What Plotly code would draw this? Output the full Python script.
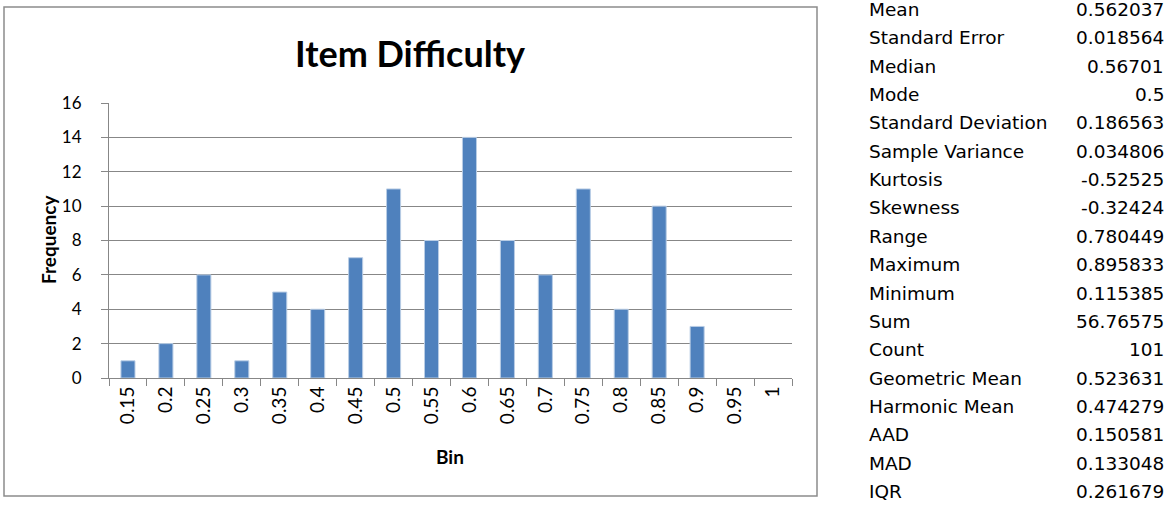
import plotly.graph_objects as go

# Histogram of item difficulty (bin upper bounds and their frequencies)
bins = ["0.15", "0.2", "0.25", "0.3", "0.35", "0.4", "0.45", "0.5", "0.55",
        "0.6", "0.65", "0.7", "0.75", "0.8", "0.85", "0.9", "0.95", "1"]
frequency = [1, 2, 6, 1, 5, 4, 7, 11, 8, 14, 8, 6, 11, 4, 10, 3, 0, 0]

# Descriptive statistics shown beside the chart
stat_names = ["Mean", "Standard Error", "Median", "Mode", "Standard Deviation",
              "Sample Variance", "Kurtosis", "Skewness", "Range", "Maximum",
              "Minimum", "Sum", "Count", "Geometric Mean", "Harmonic Mean",
              "AAD", "MAD", "IQR"]
stat_values = ["0.562037", "0.018564", "0.56701", "0.5", "0.186563",
               "0.034806", "-0.52525", "-0.32424", "0.780449", "0.895833",
               "0.115385", "56.76575", "101", "0.523631", "0.474279",
               "0.150581", "0.133048", "0.261679"]

W, H = 1172, 510
L, R, T, B = 109, 792, 103, 378   # plot area in pixels
PW, PH = R - L, B - T


def px(x):
    return (x - L) / PW


def py(y):
    return (B - y) / PH


BODY = "Lato"
GRID = "#878787"

# empty bins get no outline so nothing shows on the baseline
outline_w = [1 if f > 0 else 0 for f in frequency]

fig = go.Figure(go.Bar(
    x=bins, y=frequency,
    marker=dict(color="#4F81BD", line=dict(color="#B9CDE5", width=outline_w)),
))

annotations = [
    dict(text="<b>Item Difficulty</b>", x=px(410), y=py(53), xref="paper", yref="paper",
         showarrow=False, font=dict(family=BODY, size=36, color="#000000"),
         xanchor="center", yanchor="middle"),
    dict(text="<b>Frequency</b>", x=px(48), y=py(240), xref="paper", yref="paper",
         showarrow=False, textangle=-90, font=dict(family=BODY, size=19, color="#000000"),
         xanchor="center", yanchor="middle"),
    dict(text="<b>Bin</b>", x=px(450), y=py(456), xref="paper", yref="paper",
         showarrow=False, font=dict(family=BODY, size=19, color="#000000"),
         xanchor="center", yanchor="middle"),
]

row0, step = 9.5, 28.35
for i, (name, val) in enumerate(zip(stat_names, stat_values)):
    yc = py(row0 + i * step)
    annotations.append(dict(text=name, x=px(867), y=yc, xref="paper", yref="paper",
                            showarrow=False, xanchor="left", yanchor="middle",
                            font=dict(family="DejaVu Sans", size=18.5, color="#000000")))
    annotations.append(dict(text=val, x=px(1166), y=yc, xref="paper", yref="paper",
                            showarrow=False, xanchor="right", yanchor="middle",
                            font=dict(family="DejaVu Sans", size=18.5, color="#000000")))

fig.update_layout(
    width=W, height=H,
    margin=dict(l=L, r=W - R, t=T, b=H - B, pad=0),
    paper_bgcolor="#FFFFFF", plot_bgcolor="#FFFFFF",
    showlegend=False,
    bargap=0.63,
    annotations=annotations,
    shapes=[dict(type="rect", xref="paper", yref="paper",
                 x0=px(4), x1=px(817), y0=py(7), y1=py(496),
                 line=dict(color="#8C8C8C", width=1.5), layer="below")],
)

fig.update_xaxes(
    type="category", tickangle=-90, tickson="boundaries",
    ticks="outside", ticklen=7, tickcolor=GRID, tickwidth=1,
    showline=True, linecolor=GRID, linewidth=1,
    showgrid=False,
    tickfont=dict(family=BODY, size=19, color="#000000"),
)
fig.update_yaxes(
    range=[0, 16], dtick=2, tick0=0,
    ticks="outside", ticklen=7, tickcolor=GRID, tickwidth=1,
    showline=True, linecolor=GRID, linewidth=1,
    showgrid=True, gridcolor=GRID, gridwidth=1, zeroline=False,
    ticklabelstandoff=16,
    tickfont=dict(family=BODY, size=17, color="#000000"),
)

fig.write_html("out.html")
